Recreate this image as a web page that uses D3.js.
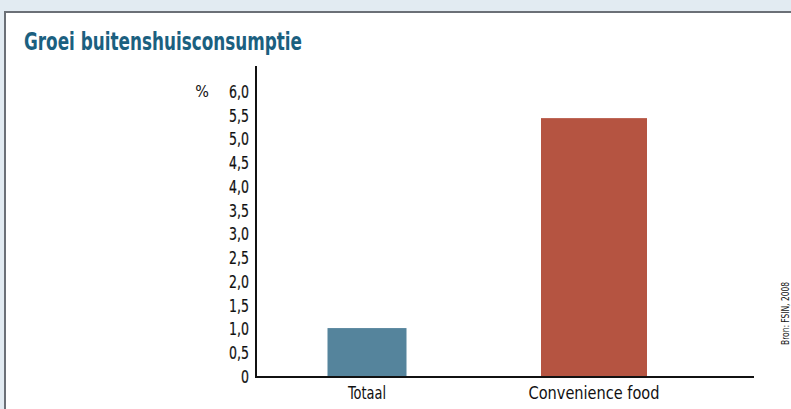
<!DOCTYPE html>
<html>
<head>
<meta charset="utf-8">
<script src="https://cdn.jsdelivr.net/npm/d3@7"></script>
<style>
  html, body { margin: 0; padding: 0; background: #e2ebf2; }
  svg { display: block; }
</style>
</head>
<body>
<svg id="chart" width="791" height="409"></svg>
<script>
// Growth of out-of-home consumption (%)
const categories = ["Totaal", "Convenience food"];
const values = [1.03, 5.45];
const barColors = ["#55849c", "#b55441"];
const tickValues = [0, 0.5, 1, 1.5, 2, 2.5, 3, 3.5, 4, 4.5, 5, 5.5, 6];
const tickLabels = ["0", "0,5", "1,0", "1,5", "2,0", "2,5", "3,0", "3,5", "4,0", "4,5", "5,0", "5,5", "6,0"];
const title = "Groei buitenshuisconsumptie";
const unitLabel = "%";
const source = "Bron: FSIN, 2008";

const font = "'DejaVu Sans Condensed', 'Liberation Sans Narrow', 'Liberation Sans', sans-serif";

const svg = d3.select("#chart");

// white panel with dark left/top border
svg.append("rect").attr("x", 5).attr("y", 12).attr("width", 800).attr("height", 420)
  .attr("fill", "#ffffff");
svg.append("line").attr("x1", 5).attr("x2", 5).attr("y1", 11).attr("y2", 409)
  .attr("stroke", "#6b7077").attr("stroke-width", 2);
svg.append("line").attr("x1", 4).attr("x2", 791).attr("y1", 12).attr("y2", 12)
  .attr("stroke", "#6b7077").attr("stroke-width", 2);

svg.append("text").attr("x", 24).attr("y", 50)
  .attr("font-family", font).attr("font-weight", "bold").attr("font-size", 24)
  .attr("textLength", 278).attr("lengthAdjust", "spacingAndGlyphs")
  .attr("fill", "#1b6080").text(title);

const y = d3.scaleLinear().domain([0, 6]).range([377, 92]);
const x0 = 256, x1 = 754;

const barWidths = [79, 106];
const centers = [367, 594];

svg.selectAll("rect.bar").data(categories).enter().append("rect")
  .attr("class", "bar")
  .attr("x", (d, i) => centers[i] - barWidths[i] / 2)
  .attr("width", (d, i) => barWidths[i])
  .attr("y", (d, i) => y(values[i]))
  .attr("height", (d, i) => y(0) - y(values[i]))
  .attr("fill", (d, i) => barColors[i]);

// y axis with narrow labels
const yAxis = d3.axisLeft(y).tickValues(tickValues)
  .tickFormat((d, i) => tickLabels[i]).tickSize(0).tickPadding(0);
const gy = svg.append("g").attr("transform", `translate(${x0 - 7},0)`).call(yAxis);
gy.select(".domain").remove();
gy.selectAll("text").attr("font-family", font).attr("font-size", 17).attr("fill", "#111")
  .attr("stroke", "#111").attr("stroke-width", 0.2)
  .attr("x", 0).attr("transform", "scale(0.82,1)");

svg.append("line").attr("x1", x0).attr("x2", x0).attr("y1", 66).attr("y2", 378)
  .attr("stroke", "#111").attr("stroke-width", 2);
svg.append("line").attr("x1", x0 - 1).attr("x2", x1).attr("y1", 377).attr("y2", 377)
  .attr("stroke", "#111").attr("stroke-width", 2);

svg.append("text").attr("x", 202).attr("y", y(6)).attr("dy", "0.32em")
  .attr("text-anchor", "middle").attr("font-family", font).attr("font-size", 16)
  .attr("fill", "#111").text(unitLabel);

// category labels
const catWidths = [38, 131];
svg.selectAll("text.cat").data(categories).enter().append("text")
  .attr("class", "cat")
  .attr("x", (d, i) => centers[i]).attr("y", 399)
  .attr("text-anchor", "middle").attr("font-family", font).attr("font-size", 17)
  .attr("textLength", (d, i) => catWidths[i]).attr("lengthAdjust", "spacingAndGlyphs")
  .attr("fill", "#111").text(d => d);

// source, rotated
svg.append("text").attr("transform", "translate(789,345) rotate(-90)")
  .attr("font-family", font).attr("font-size", 10.5)
  .attr("textLength", 63).attr("lengthAdjust", "spacingAndGlyphs")
  .attr("fill", "#111").text(source);
</script>
</body>
</html>
